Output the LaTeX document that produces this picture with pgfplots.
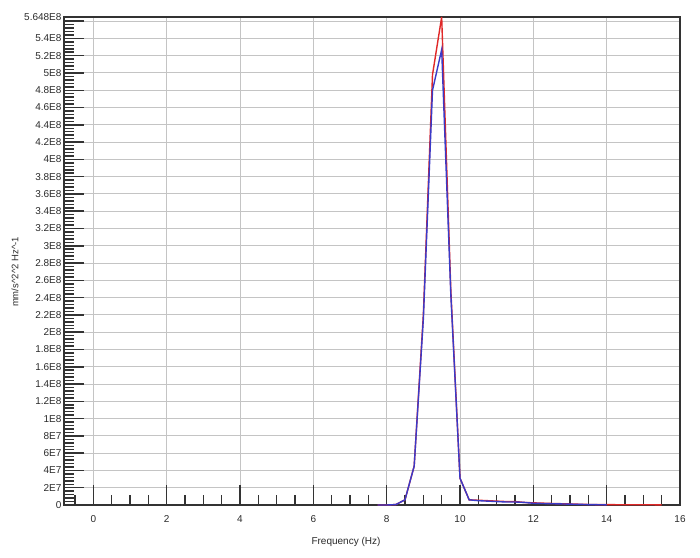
\documentclass[border=0pt]{standalone}
\usepackage{pgfplots}
\pgfplotsset{compat=1.18}
\usepackage{fontspec}
\setmainfont{Liberation Sans}
\definecolor{gridgray}{HTML}{C4C4C4}
\definecolor{axisgray}{HTML}{333333}
\definecolor{labgray}{HTML}{2A2A2A}
\definecolor{psdred}{HTML}{E02828}
\definecolor{psdblue}{HTML}{3A3AC8}
\begin{document}
\begin{tikzpicture}
\path[use as bounding box] (-64pt,-52pt) rectangle (636pt,505pt);
\begin{axis}[
  scale only axis,
  width=616pt, height=488pt,
  xmin=-0.8, xmax=16, ymin=0, ymax=5.648,
  axis line style={axisgray, line width=1.8pt},
  tick pos=left,
  tick align=inside,
  xtick={0,2,...,16},
  minor xtick={-0.5,0.5,1,1.5,2.5,3,3.5,4.5,5,5.5,6.5,7,7.5,8.5,9,9.5,10.5,11,11.5,12.5,13,13.5,14.5,15,15.5},
  ytick={0,0.2,0.4,0.6,0.8,1,1.2,1.4,1.6,1.8,2,2.2,2.4,2.6,2.8,3,3.2,3.4,3.6,3.8,4,4.2,4.4,4.6,4.8,5,5.2,5.4,5.6,5.648},
  yticklabels={0,2E7,4E7,6E7,8E7,1E8,1.2E8,1.4E8,1.6E8,1.8E8,2E8,2.2E8,2.4E8,2.6E8,2.8E8,3E8,3.2E8,3.4E8,3.6E8,3.8E8,4E8,4.2E8,4.4E8,4.6E8,4.8E8,5E8,5.2E8,5.4E8,,5.648E8},
  minor ytick={0.04,0.08,...,5.64},
  major tick length=20pt,
  minor tick length=10pt,
  every tick/.style={axisgray, line width=1.5pt},
  grid=major,
  major grid style={gridgray, line width=1pt},
  minor grid style={draw=none},
  tick label style={font=\fontsize{10}{12}\selectfont, text=labgray},
  xticklabel style={yshift=-7pt},
  yticklabel style={xshift=1pt},
  /pgf/number format/assume math mode=true,
  clip=false,
]
\addplot[psdred, line width=1.4pt] coordinates {
  (7.75,0) (8.0,0) (8.25,0.005) (8.5,0.06) (8.75,0.45) (9.0,2.2)
  (9.25,4.98) (9.5,5.648) (9.75,2.48) (10.0,0.31) (10.25,0.06)
  (10.5,0.055) (10.75,0.05) (11.0,0.045) (11.25,0.04) (11.5,0.04)
  (11.75,0.03) (12.0,0.025) (12.5,0.018) (13.0,0.012) (13.5,0.006)
  (14.0,0.004) (14.5,0.003) (15.0,0.003) (15.5,0.002)
};
\addplot[psdblue, line width=1.4pt] coordinates {
  (7.75,0) (8.0,0) (8.25,0.005) (8.5,0.06) (8.75,0.45) (9.0,2.15)
  (9.25,4.8) (9.5,5.27) (9.75,2.43) (10.0,0.31) (10.25,0.06)
  (10.5,0.05) (10.75,0.045) (11.0,0.04) (11.25,0.035) (11.5,0.035)
  (11.75,0.03) (12.0,0.02) (12.5,0.015) (13.0,0.01) (13.5,0.005)
  (14.0,0.002)
};
\end{axis}
\node[rotate=90, font=\fontsize{9.5}{11}\selectfont, text=labgray] at (-49pt,233pt) {mm/s\textasciicircum2\textasciicircum2 Hz\textasciicircum-1};
\node[font=\fontsize{10}{12}\selectfont, text=labgray] at (282pt,-37pt) {Frequency (Hz)};
\end{tikzpicture}
\end{document}
